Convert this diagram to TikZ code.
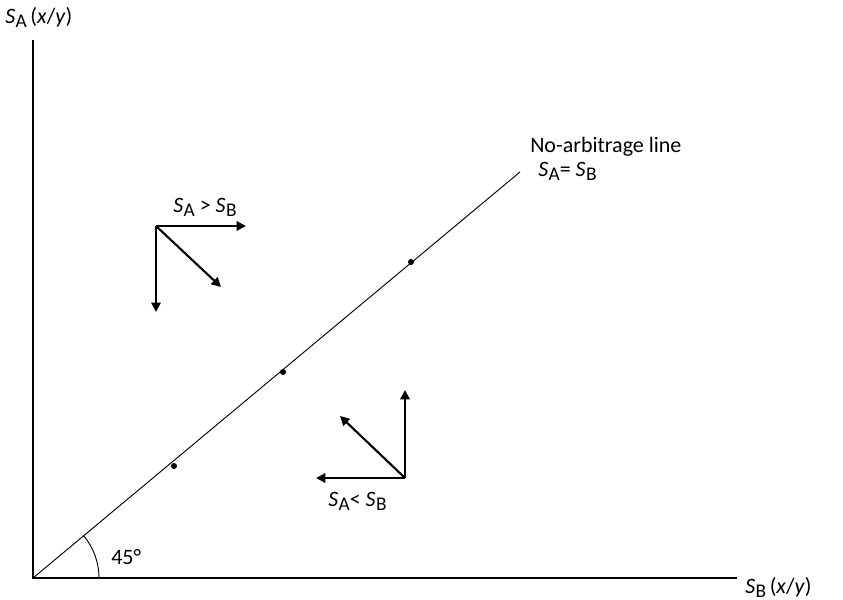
\documentclass[tikz,border=0pt]{standalone}
\usepackage{fontspec}
\setmainfont{Carlito}
\usetikzlibrary{arrows.meta,positioning}
\newcommand{\Sx}[1]{\textit{S}\kern0.3pt\raisebox{-0.3ex}{\fontsize{14.5}{15}\selectfont #1}}
\begin{document}
\begin{tikzpicture}[x=0.75pt,y=0.75pt,
      axis/.style={line width=0.9pt},
      vec/.style={line width=1.6pt, -{Triangle[length=7pt,width=7pt]}},
      lbl/.style={font=\fontsize{16.5}{18}\selectfont, inner sep=0pt, anchor=base west},
      pt/.style={circle, fill, inner sep=0pt, minimum size=4.5pt}
    ]
    \useasboundingbox (0,0) rectangle (843,600);
    % axes
    \coordinate (o) at (33,22);
    \coordinate (ytop) at (33,560);
    \coordinate (xend) at (737,22);
    \coordinate (lend) at (520,428);
    \draw[axis] (ytop) -- (o) -- (xend);
    \node[lbl] (ylab) at (5,576) {\Sx{A}\,(\textit{x}/\textit{y})};
    \node[lbl] (xlab) at (745,6) {\Sx{B}\,(\textit{x}/\textit{y})};
    % no-arbitrage line
    \draw[line width=0.7pt] (o) -- (lend);
    \node[pt] (d1) at (174,134) {};
    \node[pt] (d2) at (283,228) {};
    \node[pt] (d3) at (411,338) {};
    \node[lbl] (nal) at (530,447) {No-arbitrage line};
    \node[lbl] (eq) at (538,423) {\Sx{A}= \Sx{B}};
    \draw[line width=0.7pt] ([shift={(66,0)}]o) arc[start angle=0, end angle=39.8, radius=66];
    \node[lbl] (ang) at (111,35) {45°};
    % upper arrows
    \coordinate (u) at (156,374);
    \draw[vec] (u) -- (246,374);
    \draw[vec] (u) -- (156,288);
    \draw[vec] (u) -- (221,313);
    \node[lbl] (gt) at (173,387) {\Sx{A} > \Sx{B}};
    % lower arrows
    \coordinate (l) at (405,122);
    \draw[vec] (l) -- (405,210);
    \draw[vec] (l) -- (316,122);
    \draw[vec] (l) -- (340,184);
    \node[lbl] (lt) at (328,93) {\Sx{A}< \Sx{B}};
\end{tikzpicture}
\end{document}
